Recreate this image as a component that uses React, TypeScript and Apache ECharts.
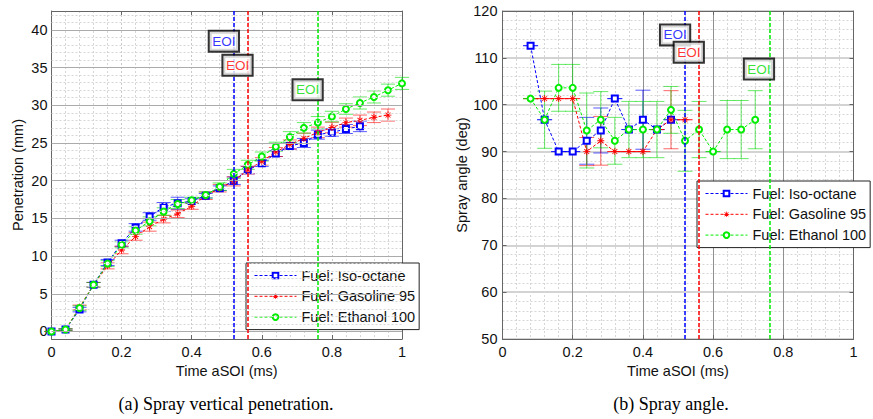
import React, { useEffect, useRef } from 'react';
import * as echarts from 'echarts';

// ---------- data ----------
const FUEL_NAMES = ['Fuel: Iso-octane', 'Fuel: Gasoline 95', 'Fuel: Ethanol 100'];

const PEN_TIME = [0, 0.04, 0.08, 0.12, 0.16, 0.2, 0.24, 0.28, 0.32, 0.36, 0.4, 0.44, 0.48, 0.52, 0.56, 0.6, 0.64, 0.68, 0.72, 0.76, 0.8, 0.84, 0.88, 0.92, 0.96, 1.0];
const PEN_ISO = [0, 0.25, 2.9, 6.2, 9.15, 11.7, 13.8, 15.25, 16.5, 17.0, 17.3, 18.0, 19.0, 20.0, 21.4, 22.3, 23.6, 24.6, 25.0, 26.1, 26.4, 26.85, 27.2];
const PEN_ISO_ERR = [0, 0.1, 0.3, 0.3, 0.4, 0.4, 0.5, 0.5, 0.6, 0.8, 0.3, 0.3, 0.3, 0.5, 0.5, 0.4, 0.4, 0.4, 0.6, 0.6, 0.5, 0.6, 0.7];
const PEN_GAS = [0, 0.25, 3.2, 6.2, 8.7, 10.8, 12.6, 13.9, 14.9, 15.6, 16.6, 18.0, 19.0, 19.9, 21.4, 22.55, 23.8, 24.8, 25.6, 26.4, 27.05, 27.7, 28.0, 28.4, 28.7];
const PEN_GAS_ERR = [0, 0.1, 0.3, 0.3, 0.4, 0.5, 0.5, 0.6, 0.5, 0.5, 0.4, 0.5, 0.5, 0.6, 0.5, 0.5, 0.6, 0.6, 0.7, 0.7, 0.7, 0.6, 0.7, 0.7, 0.8];
const PEN_ETH = [0, 0.25, 3.1, 6.2, 9.0, 11.5, 13.4, 14.6, 15.9, 16.9, 17.4, 18.1, 19.2, 20.9, 22.1, 23.2, 24.5, 25.8, 27.0, 27.7, 28.5, 29.5, 30.3, 31.1, 32.0, 32.9];
const PEN_ETH_ERR = [0, 0.1, 0.3, 0.3, 0.4, 0.4, 0.5, 0.6, 0.5, 0.6, 0.4, 0.4, 0.5, 0.6, 0.6, 0.6, 0.6, 0.7, 0.7, 0.8, 0.7, 0.7, 0.8, 0.8, 0.8, 0.8];

const ANG_TIME = [0.08, 0.12, 0.16, 0.2, 0.24, 0.28, 0.32, 0.36, 0.4, 0.44, 0.48, 0.52, 0.56, 0.6, 0.64, 0.68, 0.72];
const ANG_ISO = [112.6, 96.8, 90, 90, 92.3, 94.5, 101.3, 94.7, 96.8, 94.7, 96.8];
const ANG_ISO_ERR = [0, 0, 0, 0, 5, 4.8, 0, 0, 6.3, 0, 0];
const ANG_GAS = [101.3, 101.3, 101.3, 101.3, 90, 92.3, 90, 90, 90, 94.7, 96.8, 96.8];
const ANG_GAS_ERR = [0, 0, 0, 0, 3, 5.2, 0, 0, 0, 0, 6.2, 0];
const ANG_ETH = [101.3, 96.8, 103.6, 103.6, 94.5, 96.8, 92.3, 94.7, 94.7, 94.7, 98.9, 92.3, 94.7, 90, 94.7, 94.7, 96.8];
const ANG_ETH_ERR = [0, 6.1, 5, 5, 8, 6, 5, 6, 6, 6, 5, 6.5, 6, 0, 6.2, 6.2, 6.2];

const PEN_TICKS = [0, 5, 10, 15, 20, 25, 30, 35, 40];
const PEN_MINOR = [1, 2, 3, 4, 6, 7, 8, 9, 11, 12, 13, 14, 16, 17, 18, 19, 21, 22, 23, 24, 26, 27, 28, 29, 31, 32, 33, 34, 36, 37, 38, 39, 41, 42];

const EOI_TIME = [0.52, 0.56, 0.76];
const EOI_LABEL_TIME = [0.45, 0.489, 0.689];
const EOI_LABEL_PEN = [38.5, 35.3, 32.05];
const EOI_LABEL_ANG = [114.9, 111.2, 107.6];

// ---------- styling ----------
const COLORS = ['#0000ff', '#ff0000', '#00ee00'];
const TEXT_COLORS = ['#0000ff', '#ff0000', '#00dd00'];
const BAR_COLORS = ['rgba(0,0,255,0.65)', 'rgba(255,0,0,0.6)', 'rgba(0,220,0,0.6)'];
const ASTERISK = 'path://M4.4,0L5.6,0L5.6,10L4.4,10ZM0,4.4L10,4.4L10,5.6L0,5.6ZM1.1,1.9L1.9,1.1L8.9,8.1L8.1,8.9ZM8.1,1.1L8.9,1.9L1.9,8.9L1.1,8.1Z';
const SYMBOLS = ['emptyRect', ASTERISK, 'emptyCircle'];
const FONT = "'Liberation Sans', Arial, sans-serif";
const FRAME = '#666';

// axis index of each panel: 0 = penetration (left), 2 = spray angle (right)
const PEN_AX = 0;
const ANG_AX = 2;

const zip = (t: number[], v: number[]) => v.map((y, i) => [t[i], y]);
const zip3 = (t: number[], v: number[], e: number[]) => v.map((y, i) => [t[i], y, e[i]]);

function errorBars(ax: number, data: number[][], color: string, cap: number) {
  return {
    type: 'custom',
    xAxisIndex: ax,
    yAxisIndex: ax,
    z: 3,
    silent: true,
    encode: { x: 0, y: 1 },
    data,
    renderItem: (_p: any, api: any) => {
      const x = api.value(0);
      const y = api.value(1);
      const e = api.value(2);
      const top = api.coord([x, y + e]);
      const bot = api.coord([x, y - e]);
      const hw = cap / 2;
      const style = { stroke: color, lineWidth: 1 };
      return {
        type: 'group',
        children: [
          { type: 'line', shape: { x1: top[0], y1: top[1], x2: bot[0], y2: bot[1] }, style },
          { type: 'line', shape: { x1: top[0] - hw, y1: top[1], x2: top[0] + hw, y2: top[1] }, style },
          { type: 'line', shape: { x1: bot[0] - hw, y1: bot[1], x2: bot[0] + hw, y2: bot[1] }, style },
        ],
      };
    },
  };
}

function lineSeries(idx: number, ax: number, data: number[][]) {
  return {
    type: 'line',
    name: FUEL_NAMES[idx],
    xAxisIndex: ax,
    yAxisIndex: ax,
    z: 4,
    data,
    symbol: SYMBOLS[idx],
    symbolSize: idx === 1 ? 7 : 6,
    showSymbol: true,
    lineStyle: { color: COLORS[idx], width: 1, type: [3, 2] },
    itemStyle: { color: COLORS[idx], borderWidth: 1 },
  };
}

function eoiLabels(ax: number, ys: number[]) {
  return {
    type: 'scatter',
    xAxisIndex: ax,
    yAxisIndex: ax,
    z: 10,
    silent: true,
    symbolSize: 1,
    itemStyle: { color: 'transparent' },
    data: ys.map((y, i) => ({
      value: [EOI_LABEL_TIME[i], y],
      label: { color: TEXT_COLORS[i] },
    })),
    label: {
      show: true,
      position: 'right',
      distance: 0,
      formatter: 'EOI',
      fontSize: 13.5,
      fontFamily: FONT,
      backgroundColor: '#fff',
      borderColor: '#000',
      borderWidth: 2,
      padding: [3, 2.5, 2, 2.5],
    },
  };
}

function eoiLines(ax: number) {
  return {
    type: 'line',
    xAxisIndex: ax,
    yAxisIndex: ax,
    data: [],
    z: 5,
    silent: true,
    markLine: {
      silent: true,
      animation: false,
      symbol: ['none', 'none'],
      label: { show: false },
      data: EOI_TIME.map((t, i) => ({ xAxis: t, lineStyle: { color: COLORS[i], width: 1.5, type: [4, 2] } })),
    },
  };
}

function xAxes(gi: number, majorSolid: boolean) {
  const common = {
    type: 'value',
    gridIndex: gi,
    min: 0,
    max: 1,
    interval: 0.2,
    axisLine: { show: true, onZero: false, lineStyle: { color: FRAME, width: 1 } },
    axisTick: { show: true, inside: true, length: 4, lineStyle: { color: FRAME } },
  };
  return [
    {
      ...common,
      position: 'bottom',
      axisLabel: { show: true, fontSize: 14.5, color: '#111', margin: 5, fontFamily: FONT },
      splitLine: majorSolid
        ? { show: true, lineStyle: { color: '#909090', width: 1 } }
        : { show: true, lineStyle: { color: '#c8c8c8', width: 1, type: [2, 2] } },
      minorTick: { show: false, splitNumber: 5 },
      minorSplitLine: { show: true, lineStyle: { color: '#d6d6d6', width: 1, type: [2, 2] } },
      name: 'Time aSOI (ms)',
      nameLocation: 'middle',
      nameGap: 23,
      nameTextStyle: { fontSize: 14.5, color: '#111', fontFamily: FONT },
    },
    {
      ...common,
      position: 'top',
      axisLabel: { show: false },
      splitLine: { show: false },
    },
  ];
}

function legend(left: number, top: number) {
  return {
    left,
    top,
    orient: 'vertical',
    data: FUEL_NAMES,
    itemWidth: 42,
    itemHeight: 7,
    itemGap: 5.8,
    padding: [5, 4, 5, 8],
    backgroundColor: '#fff',
    borderColor: '#222',
    borderWidth: 1,
    borderRadius: 0,
    selectedMode: false,
    lineStyle: { width: 1 },
    itemStyle: { borderWidth: 1 },
    textStyle: { fontSize: 14.5, color: '#111', fontFamily: FONT },
  };
}

export default function App() {
  const ref = useRef<HTMLDivElement>(null);
  useEffect(() => {
    if (!ref.current) return;
    const chart = echarts.init(ref.current, undefined, { renderer: 'svg' });

    const penY = {
      type: 'value',
      gridIndex: 0,
      min: -1,
      max: 42.5,
      axisLine: { show: true, onZero: false, lineStyle: { color: FRAME, width: 1 } },
      splitLine: { show: false },
    };
    const angY = {
      type: 'value',
      gridIndex: 1,
      min: 50,
      max: 120,
      interval: 10,
      axisLine: { show: true, onZero: false, lineStyle: { color: FRAME, width: 1 } },
    };

    const penGridLines = {
      type: 'line',
      xAxisIndex: PEN_AX,
      yAxisIndex: PEN_AX,
      data: [],
      z: 1,
      silent: true,
      markLine: {
        silent: true,
        animation: false,
        symbol: ['none', 'none'],
        label: { show: false },
        data: [
          ...PEN_MINOR.map((v) => ({ yAxis: v, lineStyle: { color: '#d6d6d6', width: 1, type: [2, 2] } })),
          ...PEN_TICKS.map((v) => ({ yAxis: v, lineStyle: { color: '#ababab', width: 1, type: 'solid' } })),
        ],
      },
    };

    const option: any = {
      animation: false,
      textStyle: { fontFamily: FONT },
      grid: [
        { left: 51.5, right: 471, top: 11, bottom: 80 },
        { left: 502.5, right: 19.5, top: 11, bottom: 80 },
      ],
      xAxis: [...xAxes(0, false), ...xAxes(1, true)],
      yAxis: [
        {
          ...penY,
          position: 'left',
          axisTick: { show: true, inside: true, length: 4, lineStyle: { color: FRAME }, customValues: PEN_TICKS },
          axisLabel: { show: true, fontSize: 14.5, color: '#111', margin: 4, customValues: PEN_TICKS, fontFamily: FONT },
          name: 'Penetration (mm)',
          nameLocation: 'middle',
          nameGap: 26,
          nameTextStyle: { fontSize: 14.5, color: '#111', fontFamily: FONT },
        },
        {
          ...penY,
          position: 'right',
          axisTick: { show: true, inside: true, length: 4, lineStyle: { color: FRAME }, customValues: PEN_TICKS },
          axisLabel: { show: false },
        },
        {
          ...angY,
          position: 'left',
          axisTick: { show: true, inside: true, length: 4, lineStyle: { color: FRAME } },
          axisLabel: { show: true, fontSize: 14.5, color: '#111', margin: 5, fontFamily: FONT },
          splitLine: { show: true, lineStyle: { color: '#c4c4c4', width: 1.5 } },
          minorTick: { show: false, splitNumber: 5 },
          minorSplitLine: { show: true, lineStyle: { color: '#d6d6d6', width: 1, type: [2, 2] } },
          name: 'Spray angle (deg)',
          nameLocation: 'middle',
          nameGap: 33,
          nameTextStyle: { fontSize: 14.5, color: '#111', fontFamily: FONT },
        },
        {
          ...angY,
          position: 'right',
          axisTick: { show: true, inside: true, length: 4, lineStyle: { color: FRAME } },
          axisLabel: { show: false },
          splitLine: { show: false },
        },
      ],
      legend: [legend(246, 263), legend(697, 181)],
      series: [
        penGridLines,
        errorBars(PEN_AX, zip3(PEN_TIME, PEN_ISO, PEN_ISO_ERR), BAR_COLORS[0], 14),
        errorBars(PEN_AX, zip3(PEN_TIME, PEN_GAS, PEN_GAS_ERR), BAR_COLORS[1], 14),
        errorBars(PEN_AX, zip3(PEN_TIME, PEN_ETH, PEN_ETH_ERR), BAR_COLORS[2], 14),
        lineSeries(0, PEN_AX, zip(PEN_TIME, PEN_ISO)),
        lineSeries(1, PEN_AX, zip(PEN_TIME, PEN_GAS)),
        lineSeries(2, PEN_AX, zip(PEN_TIME, PEN_ETH)),
        eoiLines(PEN_AX),
        eoiLabels(PEN_AX, EOI_LABEL_PEN),
        errorBars(ANG_AX, zip3(ANG_TIME, ANG_ISO, ANG_ISO_ERR), BAR_COLORS[0], 15),
        errorBars(ANG_AX, zip3(ANG_TIME, ANG_GAS, ANG_GAS_ERR), BAR_COLORS[1], 15),
        errorBars(ANG_AX, zip3(ANG_TIME, ANG_ETH, ANG_ETH_ERR), BAR_COLORS[2], 15),
        lineSeries(0, ANG_AX, zip(ANG_TIME, ANG_ISO)),
        lineSeries(1, ANG_AX, zip(ANG_TIME, ANG_GAS)),
        lineSeries(2, ANG_AX, zip(ANG_TIME, ANG_ETH)),
        eoiLines(ANG_AX),
        eoiLabels(ANG_AX, EOI_LABEL_ANG),
      ],
      graphic: [
        {
          type: 'text',
          x: 226,
          y: 404,
          style: {
            text: '(a) Spray vertical penetration.',
            fontSize: 18,
            fontFamily: "'Liberation Serif', 'Times New Roman', serif",
            fill: '#000',
            align: 'center',
            verticalAlign: 'middle',
          },
        },
        {
          type: 'text',
          x: 671,
          y: 404,
          style: {
            text: '(b) Spray angle.',
            fontSize: 18,
            fontFamily: "'Liberation Serif', 'Times New Roman', serif",
            fill: '#000',
            align: 'center',
            verticalAlign: 'middle',
          },
        },
      ],
    };
    chart.setOption(option);
    return () => chart.dispose();
  }, []);

  return (
    <div
      ref={ref}
      style={{ position: 'absolute', left: 0, top: 0, width: 873, height: 419, background: '#fff' }}
    />
  );
}
